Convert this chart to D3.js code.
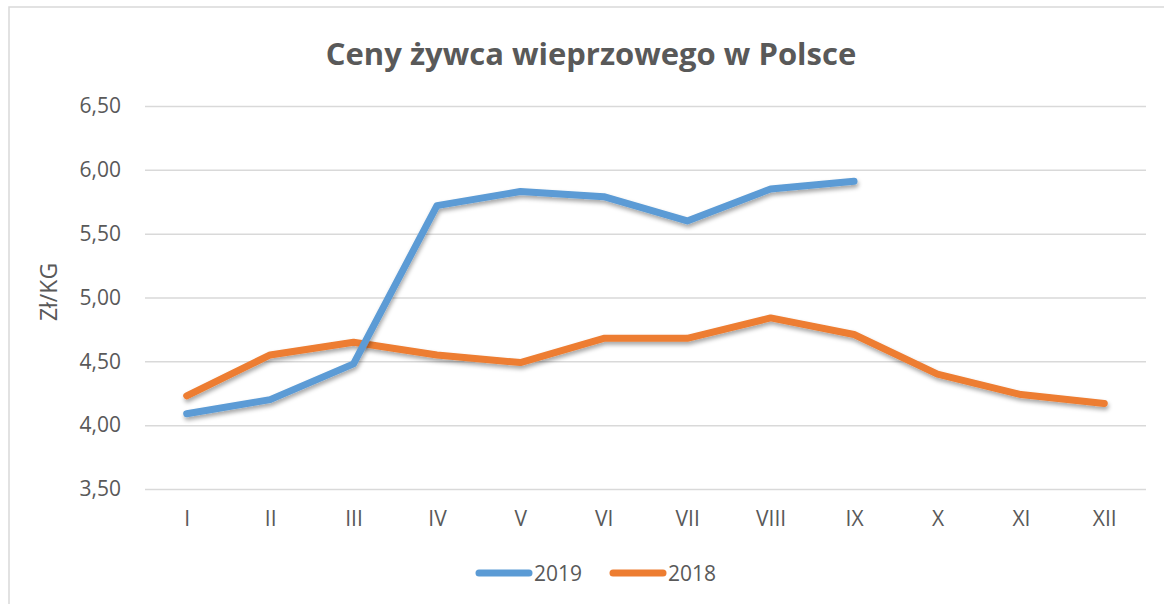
<!DOCTYPE html>
<html>
<head>
<meta charset="utf-8">
<script src="https://cdn.jsdelivr.net/npm/d3@7"></script>
<style>
  body { margin: 0; background: #fff; }
  text { font-family: "Open Sans", sans-serif; fill: #595959; }
</style>
</head>
<body>
<svg id="chart" width="1164" height="604"></svg>
<script>
const months = ["I", "II", "III", "IV", "V", "VI", "VII", "VIII", "IX", "X", "XI", "XII"];
const prices2019 = [4.09, 4.20, 4.48, 5.72, 5.83, 5.79, 5.60, 5.85, 5.91, null, null, null];
const prices2018 = [4.23, 4.55, 4.65, 4.55, 4.49, 4.68, 4.68, 4.84, 4.71, 4.40, 4.24, 4.17];
const yTicks = [3.5, 4.0, 4.5, 5.0, 5.5, 6.0, 6.5];
const seriesNames = ["2019", "2018"];
const colors = ["#5b9bd5", "#ed7d31"];

const width = 1164;
const height = 604;
const margin = { top: 106, right: 18, bottom: 115, left: 145 };

const svg = d3.select("#chart");

// chart border (left and top only visible)
svg.append("path")
  .attr("d", `M9,${height} V7 H${width}`)
  .attr("fill", "none")
  .attr("stroke", "#d9d9d9")
  .attr("stroke-width", 1.5);

const defs = svg.append("defs");
const shadow = defs.append("filter").attr("id", "shadow")
  .attr("x", "-5%").attr("y", "-20%").attr("width", "110%").attr("height", "140%");
shadow.append("feDropShadow")
  .attr("dx", 1).attr("dy", 3).attr("stdDeviation", 2)
  .attr("flood-color", "#000").attr("flood-opacity", 0.35);

const x = d3.scalePoint()
  .domain(months)
  .range([margin.left, width - margin.right])
  .padding(0.5);

const y = d3.scaleLinear()
  .domain([3.5, 6.5])
  .range([height - margin.bottom, margin.top]);

const fmt = d => d3.format(".2f")(d).replace(".", ",");

// gridlines + y labels
const yAxis = svg.append("g")
  .attr("transform", `translate(${margin.left},0)`)
  .call(d3.axisLeft(y).tickValues(yTicks).tickFormat(fmt)
    .tickSize(-(width - margin.right - margin.left)).tickPadding(24));
yAxis.select(".domain").remove();
yAxis.selectAll(".tick line").attr("stroke", "#d9d9d9").attr("stroke-width", 1.5);
yAxis.selectAll(".tick text")
  .attr("font-size", 21).attr("font-family", "Open Sans").attr("fill", "#595959");

// x labels
const xAxis = svg.append("g")
  .attr("transform", `translate(0,${height - margin.bottom})`)
  .call(d3.axisBottom(x).tickSize(0).tickPadding(22));
xAxis.select(".domain").remove();
xAxis.selectAll(".tick text")
  .attr("font-size", 21).attr("font-family", "Open Sans").attr("fill", "#595959");

// lines
const line = d3.line()
  .defined(d => d.v != null)
  .x(d => x(d.m))
  .y(d => y(d.v));

[prices2018, prices2019].forEach((vals, idx) => {
  const ci = idx === 0 ? 1 : 0;
  svg.append("path")
    .datum(months.map((m, i) => ({ m, v: vals[i] })))
    .attr("d", line)
    .attr("fill", "none")
    .attr("stroke", colors[ci])
    .attr("stroke-width", 7)
    .attr("stroke-linecap", "round")
    .attr("stroke-linejoin", "round")
    .attr("filter", "url(#shadow)");
});

// title
svg.append("text")
  .attr("x", 591)
  .attr("y", 65)
  .attr("text-anchor", "middle")
  .attr("font-size", 31)
  .attr("font-weight", "bold")
  .text("Ceny żywca wieprzowego w Polsce");

// y axis title
svg.append("text")
  .attr("transform", "rotate(-90)")
  .attr("x", -292)
  .attr("y", 57)
  .attr("text-anchor", "middle")
  .attr("font-size", 23)
  .text("Zł/KG");

// legend
const legendX = [476, 610];
const legend = svg.append("g");
seriesNames.forEach((name, i) => {
  legend.append("line")
    .attr("x1", legendX[i] + 3).attr("x2", legendX[i] + 53)
    .attr("y1", 573).attr("y2", 573)
    .attr("stroke", colors[i])
    .attr("stroke-width", 7)
    .attr("stroke-linecap", "round");
  legend.append("text")
    .attr("x", legendX[i] + 58)
    .attr("y", 581)
    .attr("font-size", 21)
    .text(name);
});
</script>
</body>
</html>
